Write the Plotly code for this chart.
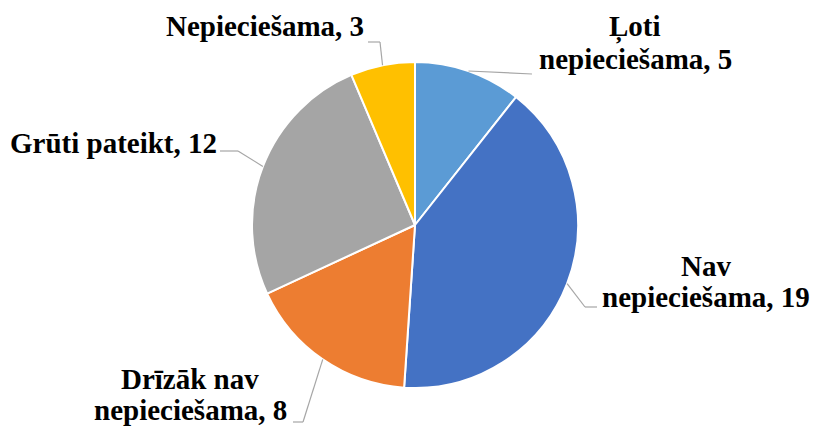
import math
import plotly.graph_objects as go

# data
labels = ["Ļoti nepieciešama", "Nav nepieciešama", "Drīzāk nav nepieciešama",
          "Grūti pateikt", "Nepieciešama"]
values = [5, 19, 8, 12, 3]
label_lines = [["Ļoti", "nepieciešama, 5"], ["Nav", "nepieciešama, 19"],
               ["Drīzāk nav", "nepieciešama, 8"], ["Grūti pateikt, 12"], ["Nepieciešama, 3"]]

COLORS = ["#5B9BD5", "#4472C4", "#ED7D31", "#A5A5A5", "#FFC000"]
LINE = "#A6A6A6"
FONT = "Liberation Serif, Times New Roman, serif"
W, H = 814, 427
CX, CY, R = 415, 225, 163    # pie centre / radius in px

# label centre x and baseline of first line (px), line step; leader elbows (px)
label_pos = [(635, 37), (706, 275), (190, 388), (113, 152), (265, 35.5)]
LINE_STEP = 31
elbows = [[(532, 74)], [(585, 307), (597, 307)], [(303, 422), (293, 422)],
          [(238, 151), (220, 151)], [(380, 42), (368, 42)]]


def px(x, y):
    return x / W, 1 - y / H


x0d, y1d = px(CX - R, CY - R)
x1d, y0d = px(CX + R, CY + R)
fig = go.Figure(go.Pie(
    labels=labels, values=values, sort=False, direction="clockwise", rotation=0,
    marker=dict(colors=COLORS, line=dict(color="white", width=2)),
    textinfo="none", hoverinfo="label+value", showlegend=False,
    domain=dict(x=[x0d, x1d], y=[y0d, y1d]),
))

total = sum(values)
start = 0.0
for i, v in enumerate(values):
    mid = math.radians(start + v / total * 360 / 2)
    start += v / total * 360
    pts = [(CX + R * math.sin(mid), CY - R * math.cos(mid))] + elbows[i]
    for (xa, ya), (xb, yb) in zip(pts[:-1], pts[1:]):
        a0, b0 = px(xa, ya)
        a1, b1 = px(xb, yb)
        fig.add_shape(type="line", xref="paper", yref="paper", x0=a0, y0=b0, x1=a1, y1=b1,
                      line=dict(color=LINE, width=1.2))
    bx, by = label_pos[i]
    for k, txt in enumerate(label_lines[i]):
        lx, ly = px(bx, by + k * LINE_STEP - 9.5)
        fig.add_annotation(x=lx, y=ly, xref="paper", yref="paper", text="<b>" + txt + "</b>",
                           showarrow=False, xanchor="center", yanchor="middle",
                           font=dict(family=FONT, size=29, color="black"))

fig.update_layout(width=W, height=H, margin=dict(l=0, r=0, t=0, b=0),
                  paper_bgcolor="white", plot_bgcolor="white")
# drop the default 8px body margin so the figure fills the window
fig.write_html("out.html", config={"displayModeBar": False},
               post_script="document.body.style.margin='0';"
                           "document.body.style.overflow='hidden';")
